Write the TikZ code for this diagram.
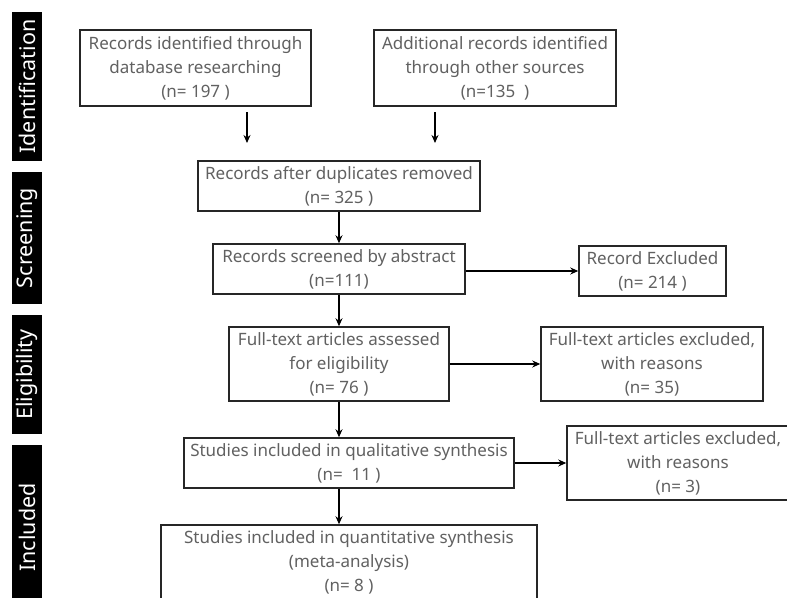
\documentclass[tikz,border=0pt]{standalone}
\usepackage{fontspec}
\setmainfont{Noto Sans}
\usetikzlibrary{arrows.meta}
\begin{document}
\begin{tikzpicture}[x=1pt,y=-1pt,
  box/.style={draw=black!85, line width=1.5pt, fill=white, text=black!62, align=center,
    font=\fontsize{17}{24}\selectfont, inner sep=0pt},
  bar/.style={fill=black, text=white, font=\fontsize{21.5}{24}\selectfont, rotate=90,
    inner sep=0pt, minimum height=30pt},
  arr/.style={-{Stealth[length=8pt,width=7pt]}, line width=1.5pt, draw=black}]
\useasboundingbox (0,0) rectangle (787,597);
% side bars
\node[bar, minimum width=149pt] (bid) at (27,86.5) {Identification};
\node[bar, minimum width=132pt] (bsc) at (27,238) {Screening};
\node[bar, minimum width=119pt] (bel) at (27,374.5) {Eligibility};
\node[bar, minimum width=165pt] (bin) at (27,527.5) {Included};
% boxes
\node[box, minimum width=231pt, minimum height=76pt] (a) at (195.5,68)
  {Records identified through\\database researching\\(n= 197 )};
\node[box, minimum width=242pt, minimum height=76pt] (b) at (495,68)
  {Additional records identified\\through other sources\\(n=135\ \ )};
\node[box, minimum width=282pt, minimum height=50pt] (c) at (339,186)
  {Records after duplicates removed\\(n= 325 )};
\node[box, minimum width=252pt, minimum height=50pt] (d) at (339,269)
  {Records screened by abstract\\(n=111)};
\node[box, minimum width=147pt, minimum height=50pt] (e) at (652.5,271)
  {Record Excluded\\(n= 214 )};
\node[box, minimum width=220pt, minimum height=74pt] (f) at (339,364)
  {Full-text articles assessed\\for eligibility\\(n= 76 )};
\node[box, minimum width=222pt, minimum height=74pt] (g) at (652,364)
  {Full-text articles excluded,\\with reasons\\(n= 35)};
\node[box, minimum width=330pt, minimum height=50pt] (h) at (349,463)
  {Studies included in qualitative synthesis\\(n=\ \ 11 )};
\node[box, minimum width=222pt, minimum height=74pt] (i) at (678,463)
  {Full-text articles excluded,\\with reasons\\(n= 3)};
\node[box, minimum width=376pt, minimum height=96pt] (j) at (349,573)
  {Studies included in quantitative synthesis\\(meta-analysis)\\(n= 8 )\\\mbox{}};
% arrows
\coordinate (a1) at (247,112);
\coordinate (a2) at (247,143);
\coordinate (b1) at (435,112);
\coordinate (b2) at (435,143);
\draw[arr] (a1) -- (a2);
\draw[arr] (b1) -- (b2);
\draw[arr] (c) -- (d);
\draw[arr] (d) -- (f);
\draw[arr] (f.south) -- (f.south |- h.north);
\draw[arr] (f.south |- h.south) -- (f.south |- j.north);
\draw[arr] (d.east |- e.west) -- (e.west);
\draw[arr] (f) -- (g);
\draw[arr] (h) -- (i);
\end{tikzpicture}
\end{document}
